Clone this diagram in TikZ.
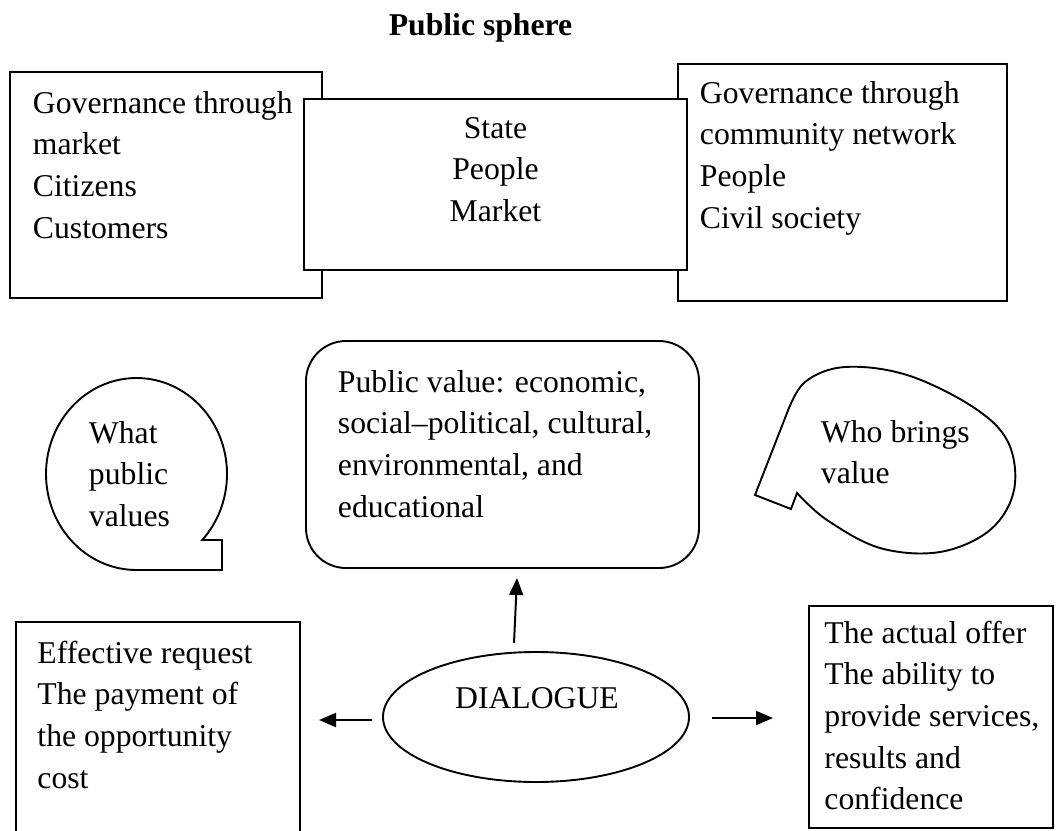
\documentclass[tikz,border=0pt]{standalone}
\usepackage{fontspec}
\setmainfont{Liberation Serif}
\usetikzlibrary{arrows.meta,shapes.geometric}
\newcommand{\myL}[1]{\begin{tabular}[t]{@{}l@{}}#1\end{tabular}}
\newcommand{\myC}[1]{\begin{tabular}[t]{@{}c@{}}#1\end{tabular}}
\begin{document}
\begin{tikzpicture}[x=1pt,y=-1pt,
  line width=1.9pt,
  boxst/.style={draw, fill=white, inner sep=0pt, outer sep=0pt},
  txt/.style={anchor=base west, inner sep=0pt, font=\fontsize{31.7}{41.7}\selectfont},
  ctxt/.style={anchor=base, inner sep=0pt, font=\fontsize{31.7}{41.7}\selectfont},
  arr/.style={-{Triangle[length=17pt,width=14pt]}, line width=2pt}]
\useasboundingbox (0,0) rectangle (1059,830);
\fill[white] (0,0) rectangle (1059,830);

% title
\node[anchor=base, inner sep=0pt, font=\fontsize{31.7}{41.7}\selectfont\bfseries] (title) at (480.5,35) {Public sphere};

% top boxes
\node[boxst, minimum width=312pt, minimum height=226pt] (lbox) at (166,185) {};
\node[boxst, minimum width=329pt, minimum height=237pt] (rbox) at (842.5,182.5) {};
\node[boxst, minimum width=383pt, minimum height=171pt] (mbox) at (495.5,184.5) {};
\node[txt] (ltxt) at (32,113) {\myL{Governance through\\market\\Citizens\\Customers}};
\node[ctxt] (mtxt) at (495.5,138) {\myC{State\\People\\Market}};
\node[txt] (rtxt) at (699,103) {\myL{Governance through\\community network\\People\\Civil society}};

% public value box
\node[boxst, rounded corners=40pt, minimum width=393pt, minimum height=227pt] (pv) at (502.5,454.5) {};
\node[txt] (pvtxt) at (337,392) {\myL{Public value: economic,\\social–political, cultural,\\environmental, and\\educational}};

% left callout
\draw[fill=white] plot[domain=90:403.4, samples=120, variable=\t] ({136.5+90.5*cos(\t)},{474+96*sin(\t)}) -- (222,540) -- (222,570) -- cycle;
\node[txt] (wtxt) at (88,443) {\myL{What\\public\\values}};

% right callout
\draw[fill=white] plot[smooth, tension=0.6] coordinates {(797,493) (827,520) (880,548) (940,552) (990,530) (1014,490) (1008,442) (973,407) (907,375) (845,367) (805,382) (787,413)} -- (755,495) -- (791,509) -- cycle;
\node[txt] (whotxt) at (820,442) {\myL{Who brings\\value}};

% bottom boxes
\node[boxst, minimum width=284pt, minimum height=238pt] (req) at (158,741) {};
\node[txt] (reqtxt) at (36.5,663) {\myL{Effective request\\The payment of\\the opportunity\\cost}};
\node[boxst, minimum width=244pt, minimum height=222pt] (offer) at (931,717) {};
\node[txt] (offtxt) at (823.5,643) {\myL{The actual offer\\The ability to\\provide services,\\results and\\confidence}};

% dialogue
\node[draw, ellipse, minimum width=306pt, minimum height=130pt, inner sep=0pt] (dlg) at (536,717) {};
\node[ctxt] (dlgtxt) at (537,708) {DIALOGUE};

% arrows
\coordinate (upS) at (514,643);
\coordinate (upE) at (517,578);
\coordinate (lS) at (372,720);
\coordinate (lE) at (319,720);
\coordinate (rS) at (712,718);
\coordinate (rE) at (773,718);
\draw[arr] (upS) -- (upE);
\draw[arr] (lS) -- (lE);
\draw[arr] (rS) -- (rE);
\end{tikzpicture}
\end{document}
